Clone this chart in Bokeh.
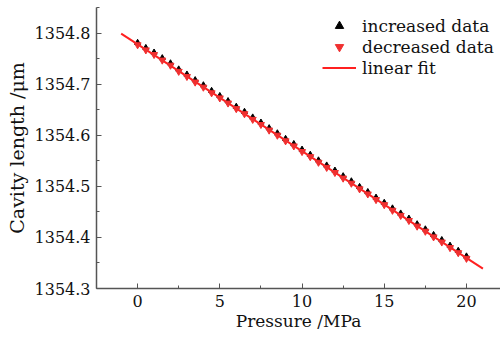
from bokeh.plotting import figure
from bokeh.models import Range1d, Legend, LegendItem, FixedTicker
from bokeh.embed import file_html
from bokeh.resources import INLINE

pressure = [0, 0.5, 1, 1.5, 2, 2.5, 3, 3.5, 4, 4.5, 5, 5.5, 6, 6.5, 7, 7.5, 8, 8.5, 9, 9.5,
            10, 10.5, 11, 11.5, 12, 12.5, 13, 13.5, 14, 14.5, 15, 15.5, 16, 16.5, 17, 17.5,
            18, 18.5, 19, 19.5, 20]
increased = [1354.781, 1354.771, 1354.762, 1354.751, 1354.741, 1354.729, 1354.719, 1354.708,
             1354.698, 1354.687, 1354.677, 1354.667, 1354.656, 1354.646, 1354.635, 1354.625,
             1354.614, 1354.604, 1354.593, 1354.583, 1354.572, 1354.562, 1354.551, 1354.541,
             1354.531, 1354.520, 1354.510, 1354.499, 1354.489, 1354.478, 1354.468, 1354.457,
             1354.447, 1354.437, 1354.426, 1354.416, 1354.405, 1354.395, 1354.384, 1354.374,
             1354.363]
decreased = [1354.777, 1354.767, 1354.758, 1354.747, 1354.737, 1354.725, 1354.715, 1354.704,
             1354.694, 1354.683, 1354.673, 1354.663, 1354.652, 1354.642, 1354.631, 1354.621,
             1354.610, 1354.600, 1354.589, 1354.579, 1354.568, 1354.558, 1354.547, 1354.537,
             1354.527, 1354.516, 1354.506, 1354.495, 1354.485, 1354.474, 1354.464, 1354.453,
             1354.443, 1354.433, 1354.422, 1354.412, 1354.401, 1354.391, 1354.380, 1354.370,
             1354.359]
fit_x = [-1, 21]
fit_y = [1354.799, 1354.339]

x_ticks = [0, 5, 10, 15, 20]
y_ticks = [1354.3, 1354.4, 1354.5, 1354.6, 1354.7, 1354.8]

FONT = "DejaVu Serif"

p = figure(width=500, height=335, output_backend="svg", toolbar_location=None,
           x_range=Range1d(-2.5, 22.07), y_range=Range1d(1354.3, 1354.85),
           min_border_left=96, min_border_right=0, min_border_top=7, min_border_bottom=47)
p.outline_line_color = None
p.grid.visible = False
p.background_fill_color = "white"
p.border_fill_color = "white"

r_inc = p.scatter(pressure, increased, marker="triangle", size=6, fill_color="black",
                  line_color="black")
r_fit = p.line(fit_x, fit_y, line_color="#ff2020", line_width=2)
r_dec = p.scatter(pressure, decreased, marker="inverted_triangle", size=7,
                  fill_color="#f03030", line_color="#f03030")

for ax in (p.xaxis[0], p.yaxis[0]):
    ax.axis_line_color = "#555555"
    ax.axis_line_width = 1.5
    ax.major_tick_line_color = "#555555"
    ax.minor_tick_line_color = "#555555"
    ax.major_tick_in = 5
    ax.major_tick_out = 0
    ax.minor_tick_in = 3
    ax.minor_tick_out = 0
    ax.major_label_text_font = FONT
    ax.major_label_text_font_size = "16px"
    ax.major_label_text_color = "#111111"
    ax.axis_label_text_font = FONT
    ax.axis_label_text_font_style = "normal"
    ax.axis_label_text_color = "#111111"

p.xaxis[0].axis_label_text_font_size = "17px"
p.yaxis[0].axis_label_text_font_size = "19px"
p.xaxis[0].ticker = FixedTicker(ticks=x_ticks, minor_ticks=[-2.5, 2.5, 7.5, 12.5, 17.5])
p.yaxis[0].ticker = FixedTicker(ticks=y_ticks,
                                minor_ticks=[1354.35, 1354.45, 1354.55, 1354.65, 1354.75, 1354.85])
p.yaxis[0].formatter.use_scientific = False
p.xaxis[0].axis_label = "Pressure /MPa"
p.yaxis[0].axis_label = "Cavity length /μm"
p.xaxis[0].major_label_standoff = 6
p.xaxis[0].axis_label_standoff = 1
p.yaxis[0].major_label_standoff = 6
p.yaxis[0].axis_label_standoff = 4

legend = Legend(items=[
    LegendItem(label="increased data", renderers=[r_inc]),
    LegendItem(label="decreased data", renderers=[r_dec]),
    LegendItem(label="linear fit", renderers=[r_fit]),
], location=(226, 210))
legend.border_line_color = None
legend.background_fill_alpha = 0
legend.padding = 0
legend.margin = 0
legend.spacing = 0
legend.glyph_width = 34
legend.glyph_height = 21
legend.label_height = 21
legend.label_standoff = 6
legend.label_text_font = FONT
legend.label_text_font_size = "17px"
legend.label_text_color = "#111111"
p.add_layout(legend, "center")

open("out.html", "w").write(file_html(p, INLINE))
